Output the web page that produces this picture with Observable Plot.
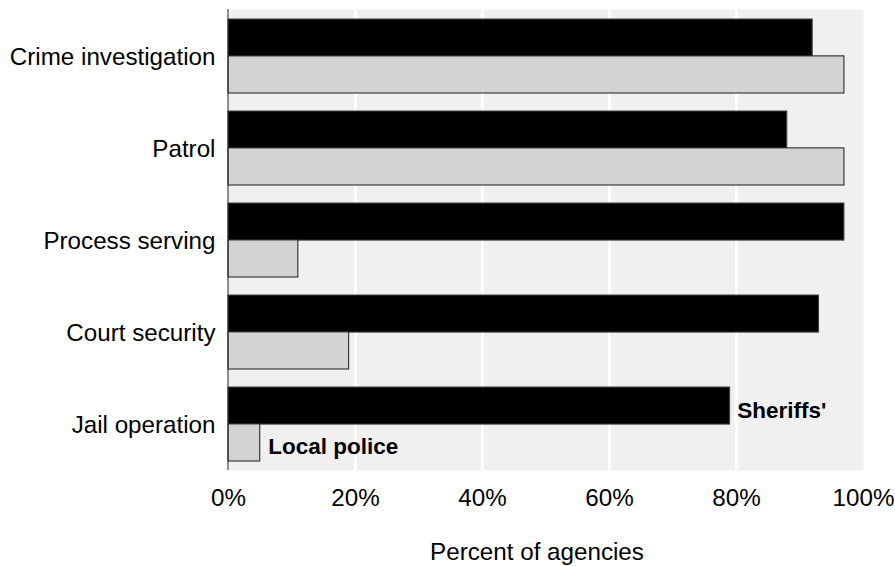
<!DOCTYPE html>
<html>
<head>
<meta charset="utf-8">
<script src="https://cdn.jsdelivr.net/npm/d3@7"></script>
<script src="https://cdn.jsdelivr.net/npm/@observablehq/plot@0.6"></script>
<style>
  html, body { margin: 0; padding: 0; background: #fff; }
</style>
</head>
<body>
<div id="chart"></div>
<script>
// Functions performed by agencies, percent of agencies
const categories = ["Crime investigation", "Patrol", "Process serving", "Court security", "Jail operation"];
const sheriffs = [92, 88, 97, 93, 79];
const localPolice = [97, 97, 11, 19, 5];
const xTicks = [0, 20, 40, 60, 80, 100];
const gridTicks = [20, 40, 60, 80];
const xLabel = "Percent of agencies";

const width = 895;
const height = 566;
const marginTop = 9;
const marginBottom = 96;
const marginLeft = 228;
const marginRight = 32;
const paddingInner = 0.2;
const paddingOuter = 0.1;

// half of a category band: each band holds two stacked bars
const step = (height - marginTop - marginBottom) / (categories.length - paddingInner + 2 * paddingOuter);
const half = step * (1 - paddingInner) / 2;

const rows = categories.map((c, i) => ({category: c, sheriffs: sheriffs[i], local: localPolice[i]}));
const last = rows[rows.length - 1];

const font = "Liberation Sans, Arial, Helvetica, sans-serif";
const fs = 24.2;

const chart = Plot.plot({
  width, height, marginTop, marginBottom, marginLeft, marginRight,
  style: {fontFamily: font, color: "#000", background: "#fff"},
  x: {domain: [0, 100], label: null},
  y: {domain: categories, paddingInner, paddingOuter, label: null},
  marks: [
    Plot.frame({fill: "#f0f0f0", stroke: null}),
    Plot.gridX(gridTicks, {stroke: "#fff", strokeWidth: 3, strokeOpacity: 1}),
    Plot.barX(rows, {x: "sheriffs", y: "category", fill: "#000", stroke: "#444", strokeWidth: 1, insetBottom: half}),
    Plot.barX(rows, {x: "local", y: "category", fill: "#d3d3d3", stroke: "#1a1a1a", strokeWidth: 1, insetTop: half}),
    Plot.ruleX([0], {stroke: "#222", strokeWidth: 1, dx: -0.5}),
    Plot.axisX(xTicks, {tickSize: 0, tickPadding: 18, tickFormat: d => d + "%", fontSize: fs, label: null}),
    Plot.axisY({tickSize: 0, tickPadding: 13, fontSize: fs, label: null, dy: 1}),
    Plot.text([last], {x: "sheriffs", y: "category", text: () => "Sheriffs'", textAnchor: "start",
      dx: 7, dy: -half / 2 + 4.5, fontSize: 22.5, fontWeight: "bold", fill: "#000"}),
    Plot.text([last], {x: "local", y: "category", text: () => "Local police", textAnchor: "start",
      dx: 8, dy: half / 2 + 4, fontSize: 22.5, fontWeight: "bold", fill: "#000"}),
    Plot.text([xLabel], {frameAnchor: "bottom", text: d => d, dx: -9, dy: 89, fontSize: fs, fill: "#000"})
  ]
});

document.getElementById("chart").appendChild(chart);
</script>
</body>
</html>
